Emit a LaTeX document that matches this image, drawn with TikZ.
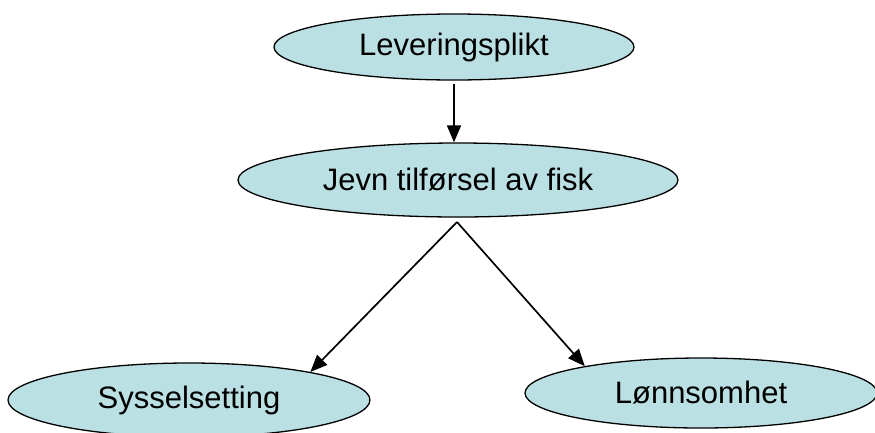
\documentclass[tikz,border=0pt]{standalone}
\usepackage{fontspec}
\setmainfont{Liberation Sans}
\usetikzlibrary{shapes.geometric,arrows.meta}

\definecolor{bubble}{RGB}{187,224,227}

\tikzset{
  bubble/.style={ellipse, draw=black, line width=1.3pt, fill=bubble,
    inner sep=0pt, font=\fontsize{31}{37}\selectfont},
  pil/.style={line width=1.7pt, -{Triangle[length=17pt,width=14pt]}}
}

\begin{document}
\begin{tikzpicture}[x=1pt,y=-1pt]
  \clip (0,0) rectangle (875,432);
  \fill[white] (0,0) rectangle (875,432);

  % the four ellipses
  \node[bubble, minimum width=360, minimum height=66] (lev) at (454,47) {Leveringsplikt};
  \node[bubble, minimum width=440, minimum height=74] (jevn) at (458,180) {Jevn tilførsel av fisk};
  \node[bubble, minimum width=362, minimum height=74] (syssel) at (189,400) {Sysselsetting};
  \node[bubble, minimum width=352, minimum height=70] (lonn) at (701,393) {Lønnsomhet};

  \coordinate (split) at (457,222);

  \begin{scope}
    \draw[pil, shorten <=3pt] (lev.south) -- (lev.south |- jevn.north);
    \draw[pil] (split) -- (syssel.13);
    \draw[pil] (split) -- (lonn.167);
  \end{scope}
\end{tikzpicture}
\end{document}
